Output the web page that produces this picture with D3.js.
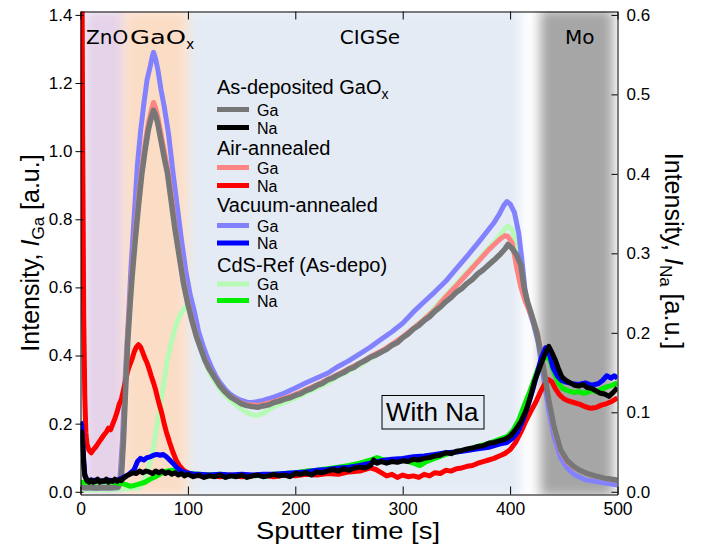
<!DOCTYPE html>
<html>
<head>
<meta charset="utf-8">
<script src="https://cdn.jsdelivr.net/npm/d3@7"></script>
<style>
  body { margin: 0; background: #fff; }
  svg { display: block; font-family: "Liberation Sans", Arial, sans-serif; }
</style>
</head>
<body>
<svg id="chart" width="701" height="548"></svg>
<script>
// Sputter time [s] vs intensity.
// Ga curves use the left axis, Na curves the right one.
var asDepGa = [[0,.015],[5,.012],[10,.013],[15,.011],[20,.013],[25,.012],[30,.013],[35,.014],[38,.04],[40,.15],[42,.3],[44,.44],[46,.54],[48,.63],[51,.74],[54,.84],[57,.93],[60,1.0],[63,1.06],[66,1.1],[68,1.12],[70,1.105],[72,1.08],[75,1.03],[78,.98],[81,.935],[85,.84],[88,.77],[92,.69],[96,.61],[100,.55],[104,.5],[108,.455],[112,.42],[116,.385],[120,.36],[125,.335],[130,.31],[135,.292],[140,.278],[145,.268],[150,.258],[155,.253],[160,.25],[165,.248],[170,.252],[175,.255],[180,.262],[185,.266],[190,.272],[195,.276],[200,.283],[205,.288],[210,.297],[215,.303],[220,.312],[225,.318],[230,.328],[235,.334],[240,.343],[245,.35],[250,.36],[255,.366],[260,.377],[265,.385],[270,.395],[275,.401],[280,.41],[285,.418],[290,.43],[295,.438],[300,.452],[305,.463],[310,.478],[315,.488],[320,.503],[325,.514],[330,.53],[335,.542],[340,.558],[345,.57],[350,.586],[355,.597],[360,.612],[365,.624],[370,.64],[375,.652],[380,.666],[385,.68],[390,.695],[395,.712],[398,.726],[402,.714],[406,.696],[410,.665],[413,.6],[416,.56],[420,.52],[425,.466],[431,.368],[436,.27],[441,.19],[447,.124],[453,.092],[459,.075],[465,.063],[472,.053],[480,.046],[488,.04],[496,.036],[500,.034]];

var airGa = [[0,.012],[10,.012],[20,.012],[30,.012],[36,.015],[38,.05],[40,.17],[42,.32],[44,.46],[46,.56],[48,.65],[51,.76],[54,.86],[57,.95],[60,1.02],[63,1.08],[66,1.12],[68,1.143],[70,1.125],[72,1.1],[75,1.05],[78,1.0],[81,.95],[85,.86],[88,.78],[92,.7],[96,.62],[100,.555],[104,.505],[108,.46],[112,.42],[116,.388],[120,.36],[125,.335],[130,.312],[135,.293],[140,.278],[145,.27],[150,.26],[155,.255],[160,.255],[165,.253],[170,.256],[180,.265],[190,.275],[200,.286],[210,.3],[220,.314],[230,.33],[240,.345],[250,.362],[260,.378],[270,.397],[280,.413],[290,.433],[300,.455],[310,.48],[320,.506],[330,.535],[340,.572],[350,.605],[360,.64],[370,.675],[380,.71],[390,.74],[395,.752],[398,.75],[402,.73],[406,.66],[410,.6],[414,.56],[418,.53],[422,.5],[426,.46],[431,.37],[436,.27],[441,.185],[447,.12],[453,.088],[460,.07],[470,.055],[480,.045],[490,.038],[500,.033]];

var vacGa = [[0,.012],[10,.01],[20,.01],[30,.01],[35,.012],[37,.05],[39,.15],[41,.3],[43,.42],[45,.53],[47,.66],[49,.76],[51,.86],[53,.96],[56,1.06],[59,1.14],[62,1.21],[65,1.25],[67,1.28],[68,1.29],[70,1.27],[72,1.24],[75,1.18],[78,1.13],[82,1.05],[86,.94],[90,.84],[94,.74],[98,.65],[102,.58],[106,.53],[110,.47],[114,.43],[118,.395],[122,.365],[126,.34],[130,.32],[135,.3],[140,.285],[145,.275],[150,.268],[155,.263],[160,.262],[170,.268],[180,.278],[190,.29],[200,.305],[210,.32],[220,.334],[230,.348],[240,.368],[250,.385],[260,.405],[270,.425],[280,.448],[290,.47],[300,.495],[310,.528],[320,.558],[330,.587],[340,.618],[350,.655],[360,.692],[370,.73],[380,.77],[385,.79],[390,.815],[394,.84],[397,.852],[400,.845],[404,.82],[408,.76],[411,.68],[414,.59],[418,.53],[422,.49],[426,.44],[431,.34],[436,.24],[441,.16],[447,.1],[453,.07],[460,.05],[470,.035],[480,.03],[490,.025],[500,.02]];

var cdsGa = [[0,.005],[10,.005],[20,.005],[30,.006],[40,.008],[50,.01],[55,.012],[60,.04],[63,.07],[66,.1],[69,.15],[72,.21],[75,.27],[78,.33],[81,.39],[84,.43],[87,.47],[90,.5],[93,.52],[95,.53],[97,.54],[100,.55],[104,.5],[108,.455],[112,.415],[116,.38],[120,.35],[125,.325],[130,.3],[135,.282],[140,.268],[145,.255],[150,.243],[155,.232],[160,.226],[165,.225],[170,.23],[180,.25],[190,.262],[200,.275],[210,.29],[220,.305],[230,.32],[240,.338],[250,.355],[260,.372],[270,.392],[280,.41],[290,.43],[300,.453],[310,.48],[320,.508],[330,.54],[340,.575],[350,.61],[360,.645],[370,.68],[380,.715],[390,.75],[395,.77],[398,.78],[402,.77],[406,.72],[410,.64],[414,.57],[418,.53],[422,.5],[426,.46],[431,.37],[436,.27],[441,.19],[447,.125],[453,.09],[460,.072],[470,.055],[480,.045],[490,.04],[500,.035]];

var asDepNa = [[0,.078],[1,.075],[2,.06],[3,.035],[4,.02],[6,.014],[8,.012],[10,.015],[12,.012],[14,.013],[16,.016],[18,.012],[20,.014],[22,.013],[24,.016],[26,.012],[28,.014],[30,.013],[32,.016],[34,.013],[36,.015],[38,.014],[40,.017],[43,.02],[46,.022],[49,.024],[52,.023],[55,.026],[58,.024],[61,.026],[64,.025],[67,.023],[70,.026],[73,.024],[76,.026],[79,.023],[82,.025],[85,.022],[88,.024],[91,.021],[94,.023],[97,.02],[100,.022],[105,.019],[110,.021],[115,.018],[120,.02],[125,.019],[130,.021],[135,.018],[140,.02],[145,.019],[150,.021],[155,.018],[160,.02],[165,.021],[170,.019],[175,.02],[180,.022],[185,.02],[190,.021],[195,.019],[200,.023],[205,.022],[210,.024],[215,.021],[220,.025],[225,.024],[230,.026],[235,.028],[240,.026],[245,.029],[250,.027],[255,.03],[260,.031],[265,.03],[270,.033],[273,.04],[276,.036],[280,.038],[285,.036],[290,.038],[295,.037],[300,.039],[305,.038],[310,.041],[315,.04],[320,.042],[325,.043],[330,.045],[335,.046],[340,.049],[345,.048],[350,.051],[355,.052],[360,.054],[365,.055],[370,.057],[375,.058],[380,.061],[385,.062],[390,.064],[395,.066],[400,.07],[405,.078],[410,.088],[415,.103],[419,.12],[423,.14],[428,.158],[432,.172],[436,.183],[439,.175],[442,.166],[445,.155],[448,.145],[452,.14],[456,.137],[460,.134],[464,.133],[468,.135],[472,.131],[476,.13],[480,.127],[484,.124],[488,.123],[492,.12],[496,.125],[500,.131]];

var airNa = [[0,1.2],[1,.8],[2,.45],[3,.22],[4,.12],[5,.075],[6,.06],[8,.052],[10,.049],[12,.053],[14,.056],[16,.06],[18,.064],[20,.068],[22,.072],[24,.075],[26,.08],[28,.078],[30,.085],[32,.092],[34,.1],[36,.11],[38,.116],[40,.128],[42,.14],[44,.152],[46,.16],[48,.167],[50,.176],[52,.182],[54,.185],[56,.182],[58,.175],[60,.168],[62,.162],[64,.154],[66,.145],[68,.137],[70,.128],[72,.117],[74,.107],[76,.097],[78,.085],[80,.075],[83,.062],[86,.05],[89,.04],[92,.033],[96,.027],[100,.024],[105,.021],[110,.02],[120,.021],[130,.019],[140,.021],[150,.019],[160,.02],[170,.021],[180,.019],[190,.021],[200,.02],[210,.022],[220,.021],[230,.023],[240,.022],[250,.025],[260,.026],[270,.03],[275,.028],[280,.024],[285,.02],[290,.022],[295,.018],[300,.021],[305,.019],[310,.02],[315,.018],[320,.022],[325,.02],[330,.024],[335,.023],[340,.027],[345,.026],[350,.029],[355,.03],[360,.032],[365,.033],[370,.036],[375,.038],[380,.04],[385,.042],[390,.045],[395,.048],[400,.053],[405,.062],[410,.075],[415,.09],[420,.103],[424,.113],[428,.125],[432,.135],[436,.141],[439,.138],[442,.13],[446,.122],[450,.117],[455,.114],[460,.112],[465,.11],[470,.107],[475,.105],[480,.106],[485,.109],[490,.111],[495,.114],[500,.118]];

var vacNa = [[0,.088],[1,.085],[2,.065],[3,.04],[4,.022],[6,.015],[10,.014],[15,.015],[20,.013],[25,.015],[30,.014],[35,.015],[40,.018],[45,.022],[50,.028],[53,.038],[56,.042],[59,.04],[62,.043],[65,.044],[68,.046],[71,.047],[74,.046],[77,.047],[80,.044],[83,.04],[86,.036],[90,.03],[94,.026],[98,.024],[102,.023],[106,.022],[110,.022],[120,.021],[130,.022],[140,.021],[150,.022],[160,.021],[170,.022],[180,.022],[190,.023],[200,.024],[210,.025],[220,.027],[230,.028],[240,.03],[250,.031],[260,.033],[270,.036],[280,.039],[290,.041],[300,.042],[310,.044],[320,.045],[330,.047],[340,.049],[350,.05],[360,.052],[370,.054],[380,.056],[390,.06],[397,.062],[402,.067],[407,.075],[412,.09],[417,.11],[421,.128],[425,.148],[429,.168],[433,.181],[436,.176],[440,.156],[444,.146],[448,.14],[452,.138],[458,.136],[464,.135],[470,.137],[476,.134],[482,.136],[486,.14],[490,.146],[494,.143],[497,.146],[500,.143]];

var cdsNa = [[0,.012],[5,.012],[10,.012],[20,.013],[30,.012],[40,.01],[46,.007],[50,.008],[55,.01],[60,.012],[65,.016],[70,.019],[75,.023],[80,.026],[85,.027],[90,.026],[95,.025],[100,.023],[110,.022],[120,.021],[130,.022],[140,.02],[150,.021],[160,.02],[170,.021],[180,.022],[190,.023],[200,.024],[210,.026],[220,.027],[230,.029],[240,.031],[250,.033],[260,.036],[270,.04],[276,.043],[280,.041],[290,.039],[300,.04],[310,.036],[316,.033],[322,.038],[330,.042],[340,.047],[350,.05],[360,.053],[370,.057],[380,.061],[390,.066],[398,.07],[403,.078],[408,.09],[413,.108],[418,.125],[422,.14],[426,.155],[430,.166],[434,.17],[437,.165],[441,.15],[445,.137],[449,.13],[454,.127],[459,.125],[464,.126],[468,.124],[472,.125],[476,.128],[480,.126],[485,.129],[490,.132],[495,.134],[500,.137]];

// layer bands along the sputter axis [s]
var layerNames = ["ZnO", "GaO", "CIGSe", "Mo"];
var layerSpans = [[3, 44], [40, 100], [95, 410], [428, 496]];

var gaTicks = [0, 0.2, 0.4, 0.6, 0.8, 1.0, 1.2, 1.4];
var naTicks = [0, 0.1, 0.2, 0.3, 0.4, 0.5, 0.6];
var timeTicks = [0, 100, 200, 300, 400, 500];

var legendTitles = ["As-deposited GaO", "Air-annealed", "Vacuum-annealed", "CdS-Ref (As-depo)"];

// colours, drawing order and so on
var bandColors = ["#e5d3e9", "#fbddc6", "#e4ebf5", "#a6a6a6"];
var groups = [
  {ga: asDepGa, na: asDepNa, gaColor: "#777777", naColor: "#000000"},
  {ga: airGa, na: airNa, gaColor: "#ff8484", naColor: "#ff0000"},
  {ga: vacGa, na: vacNa, gaColor: "#8282ff", naColor: "#0000ff"},
  {ga: cdsGa, na: cdsNa, gaColor: "#b6fab6", naColor: "#00ee00"}
];

var svg = d3.select("#chart");
var plotL = 80.5, plotR = 617.5, plotT = 11.5, plotB = 494.5;

var x = d3.scaleLinear().domain([0, 500]).range([plotL, plotR]);
var yGa = d3.scaleLinear().domain([-0.008, 1.41]).range([plotB, plotT]);
var yNa = d3.scaleLinear().domain([-0.008 * 3 / 7, 1.41 * 3 / 7]).range([plotB, plotT]);

var defs = svg.append("defs");
defs.append("clipPath").attr("id", "plotClip")
  .append("rect").attr("x", plotL).attr("y", plotT)
  .attr("width", plotR - plotL).attr("height", plotB - plotT);
defs.append("filter").attr("id", "soft")
  .attr("x", "-50%").attr("y", "-10%").attr("width", "200%").attr("height", "120%")
  .append("feGaussianBlur").attr("stdDeviation", 6);

// Background bands.
var bands = svg.append("g").attr("clip-path", "url(#plotClip)");
var bandOrder = [2, 0, 1, 3];
bandOrder.forEach(function(i) {
  bands.append("rect")
    .attr("x", x(layerSpans[i][0]))
    .attr("width", x(layerSpans[i][1]) - x(layerSpans[i][0]))
    .attr("y", plotT - 2)
    .attr("height", plotB - plotT + 4)
    .attr("fill", bandColors[i])
    .attr("filter", "url(#soft)");
});

// Layer names along the top.
var layerLabels = svg.append("g")
  .attr("font-family", "'DejaVu Sans', Verdana, sans-serif")
  .attr("font-size", 20);
var layerX = [86, 130, 370, 565];
layerNames.forEach(function(n, i) {
  var t = layerLabels.append("text").attr("x", layerX[i]).attr("y", 43.5)
    .attr("text-anchor", i === 2 ? "middle" : "start");
  if (n === "GaO") {
    t.append("tspan").attr("textLength", 56).attr("lengthAdjust", "spacingAndGlyphs").text(n);
    t.append("tspan").attr("font-size", 14).attr("dy", 5).text("x");
  } else {
    t.text(n);
  }
});

// Curves.
var gaLine = d3.line().x(function(d) { return x(d[0]); }).y(function(d) { return yGa(d[1]); });
var naLine = d3.line().x(function(d) { return x(d[0]); }).y(function(d) { return yNa(d[1]); });
var curves = svg.append("g").attr("clip-path", "url(#plotClip)")
  .attr("fill", "none").attr("stroke-width", 5).attr("stroke-linejoin", "round");

var drawOrder = [[3, "ga"], [2, "ga"], [1, "ga"], [1, "na"], [0, "ga"], [3, "na"], [2, "na"], [0, "na"]];
drawOrder.forEach(function(o) {
  var g = groups[o[0]];
  curves.append("path")
    .attr("d", o[1] === "ga" ? gaLine(g.ga) : naLine(g.na))
    .attr("stroke", o[1] === "ga" ? g.gaColor : g.naColor)
    .attr("stroke-width", o[1] === "ga" && o[0] === 0 ? 5.5 : 5);
});

// Axes.
var axes = svg.append("g");
var yAxisL = axes.append("g").attr("transform", "translate(" + plotL + ",0)")
  .call(d3.axisLeft(yGa).tickValues(gaTicks).tickFormat(d3.format(".1f"))
    .tickSizeInner(5).tickSizeOuter(0).tickPadding(3));
yAxisL.selectAll(".tick line").attr("x1", 3);
var yAxisR = axes.append("g").attr("transform", "translate(" + plotR + ",0)")
  .call(d3.axisRight(yNa).tickValues(naTicks).tickFormat(d3.format(".1f"))
    .tickSizeInner(-6).tickSizeOuter(0).tickPadding(9));
var xAxisB = axes.append("g").attr("transform", "translate(0," + plotB + ")")
  .call(d3.axisBottom(x).tickValues(timeTicks).tickFormat(d3.format("d"))
    .tickSizeInner(-8).tickSizeOuter(0).tickPadding(8));
axes.append("g").attr("transform", "translate(0," + plotT + ")")
  .call(d3.axisTop(x).tickValues(timeTicks).tickFormat("")
    .tickSizeInner(-8).tickSizeOuter(0));
axes.selectAll("g").attr("font-family", "'Liberation Sans', Arial, sans-serif");
yAxisL.selectAll("text").attr("font-size", 17).attr("fill", "#000");
yAxisR.selectAll("text").attr("font-size", 17).attr("fill", "#000");
xAxisB.selectAll("text").attr("font-size", 17.5).attr("fill", "#000");
axes.selectAll("path, line").attr("stroke", "#000");

// Axis titles.
svg.append("text").attr("x", 348).attr("y", 539).attr("text-anchor", "middle")
  .attr("font-size", 24).attr("textLength", 184).attr("lengthAdjust", "spacingAndGlyphs")
  .text("Sputter time [s]");

function sideTitle(xPos, yPos, angle, sub) {
  var t = svg.append("text").attr("text-anchor", "middle").attr("font-size", 25)
    .attr("transform", "translate(" + xPos + "," + yPos + ") rotate(" + angle + ")");
  t.append("tspan").text("Intensity, ");
  t.append("tspan").attr("font-style", "italic").text("I");
  t.append("tspan").attr("font-size", 17).attr("dy", 5).text(sub);
  t.append("tspan").attr("dy", -5).text(" [a.u.]");
}
sideTitle(39, 253, -90, "Ga");
sideTitle(665, 251, 90, "Na");

// Legend.
var legend = svg.append("g");
var titleY = [94, 155, 212, 271.5];
var itemY = [[109.5, 127.5], [167.5, 185.5], [225.5, 243], [284, 300.5]];
legendTitles.forEach(function(title, i) {
  var t = legend.append("text").attr("x", 217).attr("y", titleY[i]).attr("font-size", 20).text(title);
  if (i === 0) t.append("tspan").attr("font-size", 14).attr("dy", 5).text("x");
  [["Ga", groups[i].gaColor], ["Na", groups[i].naColor]].forEach(function(it, k) {
    legend.append("line").attr("x1", 217).attr("x2", 249)
      .attr("y1", itemY[i][k]).attr("y2", itemY[i][k])
      .attr("stroke", it[1]).attr("stroke-width", 5);
    legend.append("text").attr("x", 257).attr("y", itemY[i][k] + 6)
      .attr("font-size", 16).text(it[0]);
  });
});

// Boxed note.
svg.append("rect").attr("x", 382).attr("y", 395.5).attr("width", 102).attr("height", 33.5)
  .attr("fill", "none").attr("stroke", "#000").attr("stroke-width", 1);
svg.append("text").attr("x", 386).attr("y", 421).attr("font-size", 26).text("With Na");
</script>
</body>
</html>
